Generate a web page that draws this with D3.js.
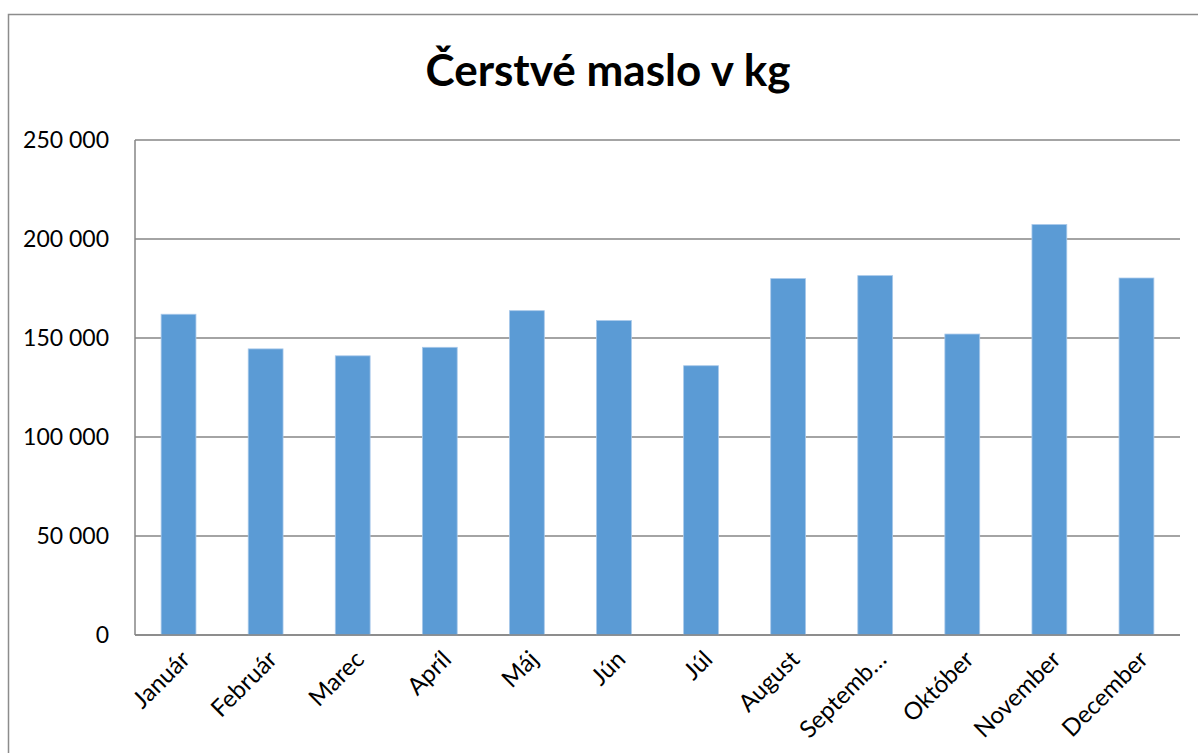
<!DOCTYPE html>
<html>
<head>
<meta charset="utf-8">
<script src="https://cdn.jsdelivr.net/npm/d3@7"></script>
<style>
  body { margin: 0; background: #fff; }
  svg { display: block; }
</style>
</head>
<body>
<svg id="chart" width="1198" height="753"></svg>
<script>
// === DATA ===
const months = ["Január", "Február", "Marec", "Apríl", "Máj", "Jún", "Júl", "August", "Septemb…", "Október", "November", "December"];
const butterKg = [162000, 144500, 141000, 145300, 163800, 158800, 136000, 180000, 181500, 152000, 207300, 180300];
const yTicks = [0, 50000, 100000, 150000, 200000, 250000];
const title = "Čerstvé maslo v kg";

// === LAYOUT ===
const svg = d3.select("#chart");
const plot = { left: 135, top: 140, right: 1180, bottom: 635 };
const font = "Lato, 'Open Sans', sans-serif";

// outer chart border
svg.append("rect")
    .attr("x", 8.5).attr("y", 14.5)
    .attr("width", 1300).attr("height", 900)
    .attr("fill", "none")
    .attr("stroke", "#8c8c8c")
    .attr("stroke-width", 1.5);

svg.append("text")
    .attr("x", 608).attr("y", 86)
    .attr("text-anchor", "middle")
    .attr("font-family", font)
    .attr("font-weight", "bold")
    .attr("font-size", 44)
    .text(title);

const x = d3.scaleBand()
    .domain(months)
    .range([plot.left, plot.right])
    .paddingInner(0.6)
    .paddingOuter(0.3);

const y = d3.scaleLinear()
    .domain([0, 250000])
    .range([plot.bottom, plot.top]);

const fmt = v => d3.format(",")(v).replace(/,/g, " ");

// gridlines
svg.append("g")
    .selectAll("line")
    .data(yTicks)
    .join("line")
    .attr("x1", plot.left).attr("x2", plot.right)
    .attr("y1", d => y(d)).attr("y2", d => y(d))
    .attr("stroke", "#868686")
    .attr("stroke-width", 1.3);

// y tick labels
svg.append("g")
    .selectAll("text")
    .data(yTicks)
    .join("text")
    .attr("x", 109)
    .attr("y", d => y(d))
    .attr("dy", "0.35em")
    .attr("text-anchor", "end")
    .attr("font-family", font)
    .attr("font-size", 23)
    .text(fmt);

// bars
svg.append("g")
    .selectAll("rect")
    .data(butterKg)
    .join("rect")
    .attr("x", (d, i) => x(months[i]))
    .attr("y", d => y(d))
    .attr("width", x.bandwidth())
    .attr("height", d => y(0) - y(d))
    .attr("fill", "#5b9bd5")
    .attr("stroke", "#a9c9ea")
    .attr("stroke-width", 0.8);

// axis lines
svg.append("line")
    .attr("x1", plot.left).attr("x2", plot.left)
    .attr("y1", plot.top).attr("y2", plot.bottom)
    .attr("stroke", "#868686").attr("stroke-width", 1.5);
svg.append("line")
    .attr("x1", plot.left).attr("x2", plot.right)
    .attr("y1", plot.bottom).attr("y2", plot.bottom)
    .attr("stroke", "#868686").attr("stroke-width", 1.5);

// x labels, rotated
svg.append("g")
    .selectAll("text")
    .data(months)
    .join("text")
    .attr("transform", d => "translate(" + (x(d) + x.bandwidth() / 2 + 1) + "," + (plot.bottom + 14) + ") rotate(-45)")
    .attr("text-anchor", "end")
    .attr("dy", "0.7em")
    .attr("font-family", font)
    .attr("font-size", 24)
    .text(d => d);
</script>
</body>
</html>
